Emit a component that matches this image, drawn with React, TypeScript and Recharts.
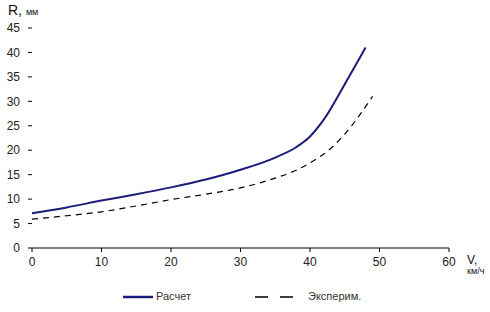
import React from "react";
import { LineChart, Line, XAxis, YAxis, Legend } from "recharts";

// V, км/ч
const calcSpeed = [0, 5, 10, 15, 20, 25, 30, 35, 38, 40, 42, 45, 48];
// R, мм — расчет
const calcR = [7.1, 8.3, 9.7, 11, 12.4, 14, 16, 18.5, 20.6, 22.8, 26.3, 33.5, 41];
const expSpeed = [0, 5, 10, 15, 20, 25, 30, 35, 38, 40, 43, 45, 49];
// R, мм — эксперимент
const expR = [5.9, 6.6, 7.4, 8.6, 9.9, 11, 12.3, 14.3, 15.9, 17.4, 20.4, 23.3, 31];

const xTicks = [0, 10, 20, 30, 40, 50, 60];
const yTicks = [0, 5, 10, 15, 20, 25, 30, 35, 40, 45];

const calcData = calcSpeed.map((v, i) => ({ v, r: calcR[i] }));
const expData = expSpeed.map((v, i) => ({ v, r: expR[i] }));

const FONT = "'Liberation Sans', Arial, sans-serif";
const NAVY = "#1c1c7a";

const LegendBox = () => (
  <div style={{ position: "relative", height: 22, fontFamily: FONT, fontSize: 11, color: "#333" }}>
    <svg width={40} height={10} style={{ position: "absolute", left: 123, top: 2 }}>
      <line x1={0} y1={5} x2={30} y2={5} stroke={NAVY} strokeWidth={2.5} />
    </svg>
    <span style={{ position: "absolute", left: 156, top: 0 }}>Расчет</span>
    <svg width={42} height={10} style={{ position: "absolute", left: 255, top: 2 }}>
      <line x1={0} y1={5} x2={40} y2={5} stroke="#000" strokeWidth={1.3} strokeDasharray="13 12" />
    </svg>
    <span style={{ position: "absolute", left: 308, top: 0 }}>Эксперим.</span>
  </div>
);

export default function App() {
  return (
    <div style={{ position: "absolute", left: 0, top: 0, width: 490, height: 312, background: "#fff", overflow: "hidden" }}>
      <LineChart
        width={490}
        height={312}
        margin={{ top: 28, right: 41, left: 0, bottom: 0 }}
        style={{ fontFamily: FONT }}
      >
        <XAxis
          type="number"
          dataKey="v"
          domain={[0, 60]}
          ticks={xTicks}
          allowDuplicatedCategory={false}
          stroke="#000"
          tickSize={4}
          tickMargin={5}
          height={42}
          tick={{ fontSize: 12, fill: "#222" }}
        />
        <YAxis
          type="number"
          dataKey="r"
          domain={[0, 45]}
          ticks={yTicks}
          axisLine={false}
          stroke="#000"
          tickSize={4}
          tickMargin={8}
          width={32}
          tick={{ fontSize: 12, fill: "#222" }}
        />
        <Line
          data={calcData}
          dataKey="r"
          type="monotone"
          stroke={NAVY}
          strokeWidth={2}
          dot={false}
          isAnimationActive={false}
        />
        <Line
          data={expData}
          dataKey="r"
          type="monotone"
          stroke="#000"
          strokeWidth={1.2}
          strokeDasharray="6 5"
          dot={false}
          isAnimationActive={false}
        />
        <Legend verticalAlign="bottom" height={22} content={() => <LegendBox />} />
      </LineChart>
      <div style={{ position: "absolute", left: 8, top: 2, fontFamily: FONT, fontSize: 14, color: "#111" }}>
        R, <span style={{ fontSize: 9 }}>мм</span>
      </div>
      <div style={{ position: "absolute", left: 467, top: 254, fontFamily: FONT, fontSize: 12, color: "#111", whiteSpace: "nowrap", lineHeight: "12px" }}>
        V,
        <div style={{ fontSize: 9, lineHeight: "10px" }}>км/ч</div>
      </div>
    </div>
  );
}
